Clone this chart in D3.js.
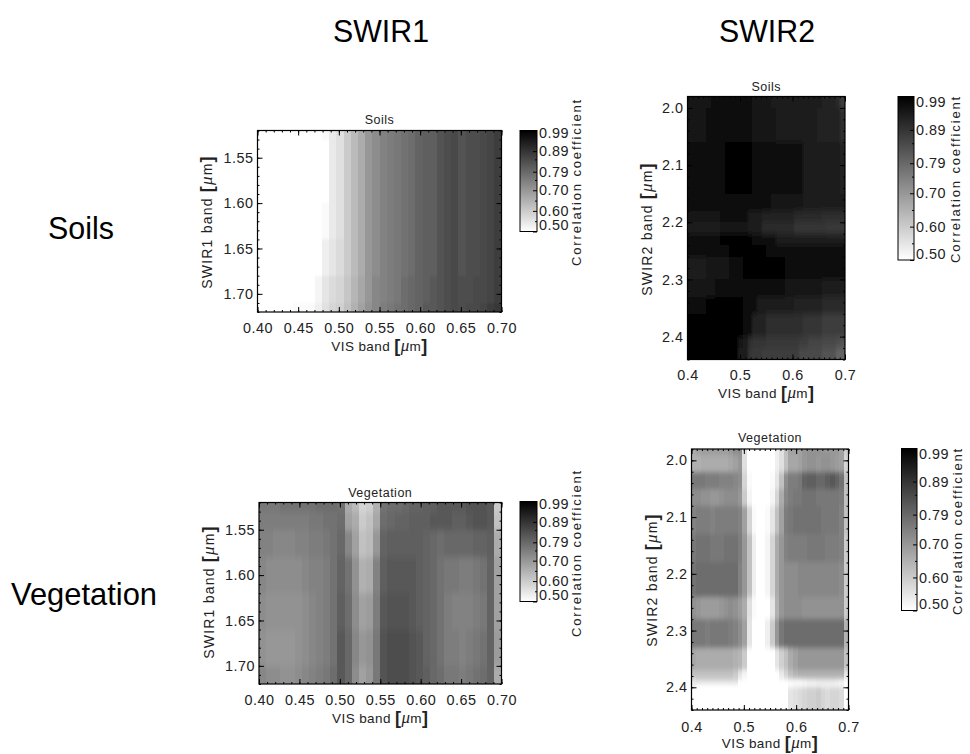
<!DOCTYPE html>
<html>
<head>
<meta charset="utf-8">
<script src="https://cdn.jsdelivr.net/npm/d3@7"></script>
<style>
  body { margin: 0; background: #fff; }
  svg { display: block; }
  text { font-family: "Liberation Sans", sans-serif; fill: #222; }
  .head { font-size: 32px; fill: #000; }
  .domain { display: none; }
  .tick line { stroke: #000; stroke-width: 1; }
</style>
</head>
<body>
<svg id="chart" width="970" height="754"></svg>
<script>
// correlation coefficients, one array per row band, 34 VIS columns
var colCount = 34;

var soilsSwir1Y = [1.52, 1.53, 1.60, 1.64, 1.68, 1.71, 1.72];
var soilsSwir1 = [
  [.50,.50,.50,.50,.50,.50,.50,.50,.50,.51,.54,.56,.60,.63,.66,.70,.72,.74,.75,.76,.77,.78,.80,.81,.81,.83,.84,.85,.83,.84,.84,.85,.86,.87],
  [.50,.50,.50,.50,.50,.50,.50,.50,.50,.50,.54,.56,.60,.63,.66,.70,.72,.74,.75,.76,.77,.78,.80,.81,.81,.83,.84,.85,.83,.84,.84,.85,.86,.87],
  [.50,.50,.50,.50,.50,.50,.50,.50,.50,.51,.54,.56,.60,.63,.66,.70,.72,.74,.75,.76,.77,.78,.80,.81,.81,.83,.84,.85,.83,.84,.84,.85,.86,.87],
  [.50,.50,.50,.50,.50,.50,.50,.50,.50,.53,.55,.57,.60,.63,.66,.70,.72,.74,.75,.76,.77,.78,.80,.81,.81,.83,.84,.85,.83,.84,.84,.85,.86,.87],
  [.50,.50,.50,.50,.50,.50,.50,.50,.52,.55,.57,.58,.61,.64,.67,.70,.73,.74,.75,.76,.78,.79,.80,.81,.82,.83,.84,.85,.84,.84,.85,.85,.86,.87],
  [.50,.50,.50,.50,.50,.51,.51,.51,.53,.56,.58,.59,.62,.65,.68,.71,.73,.75,.76,.77,.78,.79,.80,.82,.82,.83,.84,.85,.84,.85,.85,.86,.87,.88]
];

var soilsSwir2Y = [1.98, 2.00, 2.06, 2.15, 2.18, 2.20, 2.22, 2.24, 2.26, 2.30, 2.33, 2.36, 2.40, 2.42, 2.44];
var soilsSwir2 = [
  [.95,.95,.95,.95,.95,.96,.96,.96,.96,.96,.96,.96,.96,.96,.95,.95,.95,.95,.94,.94,.94,.94,.94,.94,.94,.93,.93,.93,.93,.92,.92,.92,.91,.87],
  [.95,.95,.95,.95,.96,.96,.96,.96,.96,.97,.97,.97,.97,.97,.95,.95,.95,.95,.95,.94,.94,.94,.94,.94,.94,.93,.93,.93,.92,.92,.92,.92,.92,.90],
  [.96,.96,.96,.96,.96,.96,.96,.96,.98,.98,.98,.98,.98,.98,.97,.97,.97,.97,.97,.96,.96,.96,.96,.96,.96,.94,.94,.94,.94,.94,.93,.93,.93,.92],
  [.96,.96,.96,.96,.96,.96,.96,.96,.96,.97,.97,.97,.97,.97,.96,.96,.96,.96,.95,.95,.95,.95,.95,.95,.95,.94,.94,.94,.94,.94,.94,.93,.93,.93],
  [.95,.95,.95,.95,.95,.95,.95,.96,.96,.96,.96,.96,.96,.93,.93,.93,.92,.92,.92,.92,.92,.92,.92,.91,.91,.91,.91,.91,.91,.90,.90,.90,.90,.90],
  [.94,.94,.94,.94,.94,.94,.94,.95,.95,.95,.95,.95,.95,.93,.93,.93,.91,.91,.91,.91,.91,.91,.91,.89,.89,.89,.89,.89,.89,.89,.88,.88,.88,.88],
  [.97,.97,.97,.97,.97,.97,.97,.98,.98,.98,.98,.98,.98,.98,.96,.96,.96,.96,.96,.94,.94,.94,.94,.94,.94,.94,.94,.94,.94,.94,.93,.93,.93,.93],
  [.96,.96,.96,.96,.96,.96,.96,.97,.97,.98,.98,.98,.98,.98,.98,.98,.98,.97,.97,.97,.97,.97,.97,.97,.97,.97,.96,.96,.96,.96,.96,.96,.96,.96],
  [.94,.94,.94,.94,.95,.95,.95,.95,.95,.97,.97,.97,.98,.98,.98,.98,.98,.98,.98,.98,.98,.97,.97,.97,.97,.97,.97,.97,.97,.97,.96,.96,.96,.96],
  [.95,.95,.95,.95,.95,.95,.97,.97,.97,.97,.97,.97,.96,.96,.96,.96,.96,.96,.96,.96,.96,.95,.95,.95,.95,.95,.95,.95,.95,.94,.94,.94,.94,.94],
  [.97,.97,.97,.97,.98,.98,.98,.98,.98,.98,.98,.98,.96,.96,.96,.93,.93,.93,.93,.93,.93,.93,.93,.92,.92,.92,.92,.92,.92,.91,.91,.91,.91,.91],
  [.99,.99,.99,.99,.99,.99,.99,.99,.99,.98,.98,.98,.96,.96,.92,.92,.92,.90,.90,.90,.90,.90,.90,.90,.90,.89,.89,.89,.89,.87,.87,.87,.87,.87],
  [.99,.99,.99,.99,.99,.99,.99,.99,.98,.98,.98,.95,.94,.90,.89,.89,.89,.88,.88,.88,.88,.88,.88,.88,.87,.87,.86,.86,.86,.85,.85,.85,.84,.83],
  [.99,.99,.99,.99,.99,.99,.99,.99,.98,.98,.98,.94,.93,.89,.88,.88,.87,.87,.87,.87,.87,.87,.87,.87,.85,.85,.85,.85,.85,.83,.83,.83,.80,.80]
];

var vegSwir1Y = [1.52, 1.53, 1.55, 1.58, 1.62, 1.66, 1.70, 1.72];
var vegSwir1 = [
  [.76,.76,.76,.77,.77,.77,.77,.77,.78,.78,.78,.77,.66,.63,.58,.59,.65,.77,.78,.78,.79,.80,.80,.81,.81,.82,.82,.82,.82,.83,.83,.83,.82,.60],
  [.75,.75,.75,.75,.75,.75,.75,.76,.76,.77,.77,.78,.68,.66,.60,.62,.67,.78,.79,.80,.80,.81,.81,.81,.82,.82,.82,.81,.81,.82,.83,.83,.82,.62],
  [.74,.74,.73,.73,.73,.74,.74,.75,.75,.76,.77,.79,.73,.68,.62,.63,.70,.80,.81,.81,.81,.81,.81,.80,.79,.78,.79,.79,.79,.79,.80,.80,.81,.66],
  [.73,.72,.72,.72,.72,.72,.73,.74,.74,.75,.77,.80,.77,.71,.65,.66,.74,.81,.82,.82,.82,.82,.81,.80,.79,.77,.76,.76,.75,.75,.76,.77,.80,.68],
  [.72,.71,.71,.71,.71,.71,.72,.73,.74,.75,.77,.81,.78,.72,.68,.69,.75,.82,.83,.83,.83,.82,.81,.80,.79,.77,.75,.74,.74,.74,.75,.76,.80,.68],
  [.71,.70,.70,.70,.70,.71,.72,.73,.74,.75,.77,.82,.79,.73,.70,.71,.76,.83,.84,.84,.84,.83,.82,.80,.79,.77,.75,.75,.74,.75,.76,.77,.80,.69],
  [.73,.72,.72,.71,.71,.72,.73,.74,.75,.76,.78,.82,.79,.72,.68,.70,.76,.83,.84,.84,.84,.83,.82,.81,.79,.78,.76,.76,.75,.76,.77,.78,.80,.66]
];

var vegSwir2Y = [1.98, 1.99, 2.02, 2.05, 2.08, 2.13, 2.18, 2.24, 2.28, 2.33, 2.37, 2.385, 2.395, 2.40, 2.44];
var vegSwir2 = [
  [.67,.68,.69,.69,.69,.69,.69,.69,.70,.72,.72,.56,.50,.50,.50,.50,.50,.50,.53,.56,.62,.68,.68,.68,.70,.71,.71,.71,.70,.70,.70,.70,.68,.60],
  [.65,.65,.66,.66,.66,.66,.66,.66,.67,.68,.70,.56,.50,.50,.50,.50,.50,.50,.53,.56,.62,.67,.67,.68,.70,.71,.71,.70,.71,.71,.70,.69,.68,.58],
  [.76,.76,.76,.75,.75,.75,.74,.74,.74,.73,.72,.58,.51,.50,.50,.50,.50,.51,.55,.62,.72,.75,.75,.76,.80,.81,.81,.79,.79,.81,.82,.80,.77,.62],
  [.72,.72,.71,.71,.70,.70,.71,.72,.72,.72,.70,.60,.52,.50,.50,.50,.50,.52,.58,.66,.73,.75,.76,.76,.77,.77,.77,.76,.76,.76,.76,.76,.75,.62],
  [.74,.75,.75,.75,.74,.75,.75,.75,.75,.75,.74,.68,.58,.51,.50,.50,.51,.55,.62,.68,.75,.76,.77,.77,.77,.77,.77,.77,.76,.76,.76,.76,.74,.62],
  [.76,.77,.77,.77,.76,.76,.76,.77,.77,.77,.75,.70,.62,.53,.50,.50,.52,.58,.66,.70,.74,.75,.75,.75,.75,.76,.76,.76,.76,.75,.75,.75,.74,.60],
  [.77,.78,.78,.78,.78,.78,.78,.78,.78,.78,.74,.70,.62,.53,.50,.50,.52,.58,.66,.70,.72,.72,.72,.73,.73,.73,.73,.73,.73,.73,.73,.73,.72,.60],
  [.71,.70,.69,.69,.69,.69,.70,.71,.72,.71,.69,.66,.56,.51,.50,.50,.50,.55,.65,.70,.72,.72,.72,.72,.71,.71,.71,.71,.71,.71,.71,.71,.71,.60],
  [.76,.76,.76,.75,.76,.76,.76,.76,.75,.74,.72,.68,.55,.50,.50,.50,.53,.60,.70,.76,.78,.78,.78,.78,.78,.78,.78,.78,.78,.78,.78,.78,.78,.65],
  [.67,.66,.66,.66,.66,.66,.66,.66,.66,.65,.64,.60,.50,.50,.50,.50,.50,.50,.55,.59,.62,.66,.68,.70,.70,.70,.70,.70,.70,.70,.70,.70,.70,.62],
  [.62,.62,.62,.62,.62,.62,.62,.62,.62,.60,.55,.52,.50,.50,.50,.50,.50,.50,.50,.54,.58,.62,.64,.65,.65,.65,.65,.65,.65,.65,.65,.65,.65,.55],
  [.54,.56,.56,.56,.56,.56,.56,.56,.56,.56,.50,.50,.50,.50,.50,.50,.50,.50,.50,.50,.50,.51,.51,.51,.52,.53,.53,.54,.54,.54,.54,.53,.52,.50],
  [.54,.50,.50,.50,.50,.50,.50,.50,.50,.50,.50,.50,.50,.50,.50,.50,.50,.50,.50,.50,.50,.50,.51,.51,.51,.52,.52,.52,.52,.52,.52,.52,.52,.50],
  [.50,.50,.50,.50,.50,.50,.50,.50,.50,.50,.50,.50,.50,.50,.50,.50,.50,.50,.50,.50,.50,.55,.56,.57,.58,.59,.59,.60,.58,.57,.58,.58,.57,.50]
];

var visTicks2 = [0.40, 0.45, 0.50, 0.55, 0.60, 0.65, 0.70];
var visTicks1 = [0.4, 0.5, 0.6, 0.7];
var swir1Ticks = [1.55, 1.60, 1.65, 1.70];
var swir2Ticks = [2.0, 2.1, 2.2, 2.3, 2.4];
var barTicks = [0.99, 0.89, 0.79, 0.70, 0.60, 0.50];
var columnHeads = ["SWIR1", "SWIR2"];
var rowHeads = ["Soils", "Vegetation"];

// layout of each panel, px
var panels = [
  { id: "a", title: "Soils", z: soilsSwir1, ys: soilsSwir1Y, yDomain: [1.52, 1.72], yTicks: swir1Ticks, yFmt: ".2f", yMinor: 0.01, xTicks: visTicks2, xFmt: ".2f", yName: "SWIR1 band ", blur: "0.3 1.5",
    x0: 257.5, x1: 501.5, y0: 130.5, y1: 312, titleY: 124, tickY: 333, xNameY: 351, yNameX: 212, yNameMid: 222,
    bar: [520, 537, 130.5, 231.5], cbX: 581, cbMid: 182 },
  { id: "b", title: "Soils", z: soilsSwir2, ys: soilsSwir2Y, yDomain: [1.98, 2.44], yTicks: swir2Ticks, yFmt: ".1f", yMinor: 0.02, xTicks: visTicks1, xFmt: ".1f", yName: "SWIR2 band ", blur: "1 3",
    x0: 687.5, x1: 845, y0: 96.5, y1: 359.5, titleY: 91, tickY: 380, xNameY: 398, yNameX: 652, yNameMid: 229,
    bar: [898, 914, 96.5, 260], cbX: 960, cbMid: 179 },
  { id: "c", title: "Vegetation", z: vegSwir1, ys: vegSwir1Y, yDomain: [1.52, 1.72], yTicks: swir1Ticks, yFmt: ".2f", yMinor: 0.01, xTicks: visTicks2, xFmt: ".2f", yName: "SWIR1 band ", blur: "0.3 3",
    x0: 259, x1: 501.5, y0: 502.5, y1: 684, titleY: 496.5, tickY: 705, xNameY: 723, yNameX: 214, yNameMid: 592,
    bar: [520, 537, 501.5, 601.5], cbX: 581, cbMid: 553 },
  { id: "d", title: "Vegetation", z: vegSwir2, ys: vegSwir2Y, yDomain: [1.98, 2.44], yTicks: swir2Ticks, yFmt: ".1f", yMinor: 0.02, xTicks: visTicks1, xFmt: ".1f", yName: "SWIR2 band ", blur: "0.7 2.5",
    x0: 691.5, x1: 848.5, y0: 449, y1: 710, titleY: 441.5, tickY: 732, xNameY: 748, yNameX: 657, yNameMid: 580,
    bar: [901.5, 917, 448.5, 610.5], cbX: 962, cbMid: 531 }
];

var svg = d3.select("#chart");
var defs = svg.append("defs");

// 0.99 is black, 0.50 and below is white
var gray = d3.scaleLinear().domain([0.50, 0.99]).range(["#fff", "#000"]).clamp(true);

var grad = defs.append("linearGradient")
  .attr("id", "ramp").attr("x1", 0).attr("y1", 1).attr("x2", 0).attr("y2", 0);
[0.50, 0.99].forEach(function (v, i) {
  grad.append("stop").attr("offset", i).attr("stop-color", gray(v));
});

// axis title with the big brackets and the italic mu
function bandLabel(sel, name) {
  sel.append("tspan").text(name);
  sel.append("tspan").attr("font-size", 18).attr("font-weight", "bold").attr("dy", 1).text("[");
  sel.append("tspan").attr("font-style", "italic").attr("font-family", "Liberation Serif").attr("font-size", 17).attr("dy", -1).text("\u03bc");
  sel.append("tspan").text("m");
  sel.append("tspan").attr("font-size", 18).attr("font-weight", "bold").attr("dy", 1).text("]");
}

function styleAxis(g) {
  g.selectAll("text").attr("font-size", 14.4).attr("letter-spacing", 0.5);
}

panels.forEach(function (p) {
  var g = svg.append("g");
  var x = d3.scaleLinear().domain([0.40, 0.70]).range([p.x0, p.x1]);
  var y = d3.scaleLinear().domain(p.yDomain).range([p.y0, p.y1]);
  var cols = d3.scaleBand().domain(d3.range(colCount)).range([p.x0, p.x1]);
  var pad = 12; // cells run past the frame so the blur does not fade at the edges
  var lastRow = p.z.length - 1;

  defs.append("clipPath").attr("id", "clip" + p.id).append("rect")
    .attr("x", p.x0).attr("y", p.y0).attr("width", p.x1 - p.x0).attr("height", p.y1 - p.y0);

  // the reference map is a resampled image, so soften the cells a little
  defs.append("filter").attr("id", "soft" + p.id)
    .attr("x", -0.1).attr("y", -0.1).attr("width", 1.2).attr("height", 1.2)
    .append("feGaussianBlur").attr("stdDeviation", p.blur);

  // heat map cells
  var cells = g.append("g").attr("clip-path", "url(#clip" + p.id + ")")
    .append("g").attr("filter", "url(#soft" + p.id + ")");
  p.z.forEach(function (row, r) {
    var top = y(p.ys[r]) - (r === 0 ? pad : 0);
    var bot = y(p.ys[r + 1]) + (r === lastRow ? pad : 0);
    cells.append("g").selectAll("rect").data(row).enter().append("rect")
      .attr("x", function (d, i) { return cols(i) - (i === 0 ? pad : 0); })
      .attr("y", top)
      .attr("width", function (d, i) { return cols.bandwidth() + 0.4 + (i === 0 || i === colCount - 1 ? pad : 0); })
      .attr("height", bot - top + 0.4)
      .attr("shape-rendering", "crispEdges")
      .attr("fill", function (d) { return gray(d); });
  });

  // major + minor ticks on all four sides
  var xMinor = d3.range(0.40, 0.705, 0.01);
  var yMinor = d3.range(p.yDomain[0], p.yDomain[1] + 0.001, p.yMinor);

  g.append("g").attr("transform", "translate(0," + p.y1 + ")")
    .call(d3.axisBottom(x).tickValues(xMinor).tickSize(-2).tickFormat(""));
  g.append("g").attr("transform", "translate(0," + p.y0 + ")")
    .call(d3.axisTop(x).tickValues(xMinor).tickSize(-2).tickFormat(""));
  g.append("g").attr("transform", "translate(" + p.x0 + ",0)")
    .call(d3.axisLeft(y).tickValues(yMinor).tickSize(-2).tickFormat(""));
  g.append("g").attr("transform", "translate(" + p.x1 + ",0)")
    .call(d3.axisRight(y).tickValues(yMinor).tickSize(-2).tickFormat(""));

  var bottom = g.append("g").attr("transform", "translate(0," + p.y1 + ")")
    .call(d3.axisBottom(x).tickValues(p.xTicks).tickSize(-5).tickFormat(d3.format(p.xFmt)));
  bottom.selectAll("text").attr("y", p.tickY - p.y1 - 10.5).attr("dy", "0.71em");
  styleAxis(bottom);

  g.append("g").attr("transform", "translate(0," + p.y0 + ")")
    .call(d3.axisTop(x).tickValues(p.xTicks).tickSize(-5).tickFormat(""));

  var left = g.append("g").attr("transform", "translate(" + p.x0 + ",0)")
    .call(d3.axisLeft(y).tickValues(p.yTicks).tickSize(-5).tickFormat(d3.format(p.yFmt)));
  left.selectAll("text").attr("x", -4);
  styleAxis(left);

  g.append("g").attr("transform", "translate(" + p.x1 + ",0)")
    .call(d3.axisRight(y).tickValues(p.yTicks).tickSize(-5).tickFormat(""));

  g.append("rect").attr("x", p.x0).attr("y", p.y0)
    .attr("width", p.x1 - p.x0).attr("height", p.y1 - p.y0)
    .attr("fill", "none").attr("stroke", "#000").attr("stroke-width", 1.2);

  // titles
  g.append("text").attr("x", (p.x0 + p.x1) / 2).attr("y", p.titleY)
    .attr("text-anchor", "middle").attr("font-size", 12.5).attr("letter-spacing", 0.5).text(p.title);

  g.append("text").attr("x", (p.x0 + p.x1) / 2).attr("y", p.xNameY)
    .attr("text-anchor", "middle").attr("font-size", 13.5).attr("letter-spacing", 0.4)
    .call(bandLabel, "VIS band ");

  g.append("text").attr("transform", "translate(" + p.yNameX + "," + p.yNameMid + ") rotate(-90)")
    .attr("text-anchor", "middle").attr("font-size", 14).attr("letter-spacing", 1.2)
    .call(bandLabel, p.yName);

  // colour bar
  var b = p.bar;
  var by = d3.scaleLinear().domain([0.50, 0.99]).range([b[3], b[2]]);
  var shortBar = b[3] - b[2] < 110;
  g.append("rect").attr("x", b[0]).attr("y", b[2])
    .attr("width", b[1] - b[0]).attr("height", b[3] - b[2])
    .attr("fill", "url(#ramp)").attr("stroke", "#000").attr("stroke-width", 1);

  var barMinor = d3.range(0.55, 0.95, 0.10);
  g.append("g").attr("transform", "translate(" + b[1] + ",0)")
    .call(d3.axisRight(by).tickValues(barMinor).tickSize(-2).tickFormat(""));

  var barAxis = g.append("g").attr("transform", "translate(" + b[1] + ",0)")
    .call(d3.axisRight(by).tickValues(barTicks).tickSize(-4).tickFormat(d3.format(".2f")));
  barAxis.selectAll("text").attr("x", 2)
    .attr("dy", function (d) {
      if (d === 0.99) return shortBar ? "0.46em" : "0.68em";
      if (d === 0.50) return "-0.12em";
      return "0.32em";
    });
  styleAxis(barAxis);

  g.append("text").attr("transform", "translate(" + p.cbX + "," + p.cbMid + ") rotate(-90)")
    .attr("text-anchor", "middle").attr("font-size", 13).attr("letter-spacing", 1.85)
    .text("Correlation coefficient");
});

// big row and column headings
var headX = d3.scaleOrdinal().domain(columnHeads).range([381, 767]);
svg.selectAll(".colHead").data(columnHeads).enter().append("text")
  .attr("class", "head colHead")
  .attr("x", function (d) { return headX(d); }).attr("y", 42)
  .attr("text-anchor", "middle")
  .attr("textLength", 96).attr("lengthAdjust", "spacingAndGlyphs")
  .text(function (d) { return d; });

var headY = d3.scaleOrdinal().domain(rowHeads).range([239, 605]);
var headW = d3.scaleOrdinal().domain(rowHeads).range([66, 146]);
svg.selectAll(".rowHead").data(rowHeads).enter().append("text")
  .attr("class", "head rowHead")
  .attr("x", function (d) { return d === "Soils" ? 81 : 84; }).attr("y", function (d) { return headY(d); })
  .attr("text-anchor", "middle")
  .attr("textLength", function (d) { return headW(d); }).attr("lengthAdjust", "spacingAndGlyphs")
  .text(function (d) { return d; });
</script>
</body>
</html>
